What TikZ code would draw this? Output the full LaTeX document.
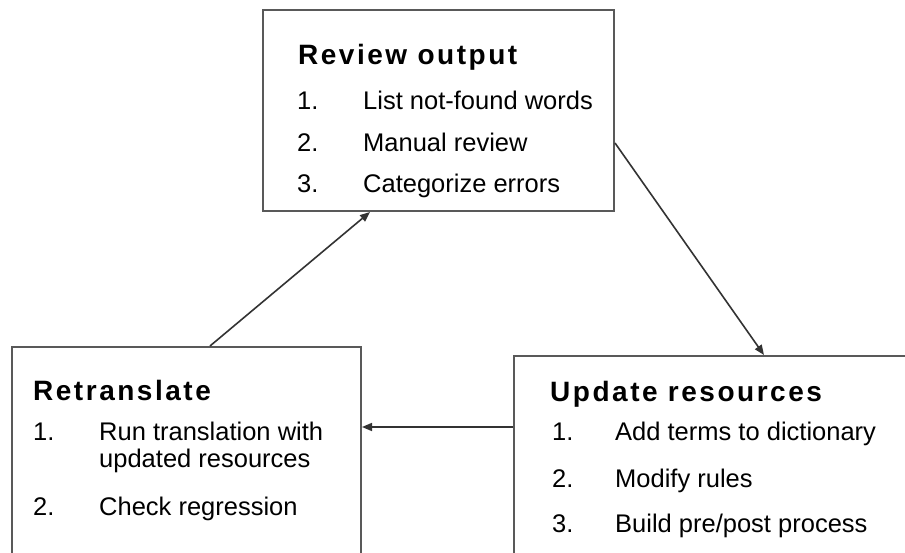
\documentclass[tikz,border=0pt]{standalone}
\usepackage{fontspec}
\setmainfont{Liberation Sans}
\newfontfamily\ttlfont[LetterSpace=9]{Liberation Sans Bold}
\usetikzlibrary{arrows.meta}
\begin{document}
\begin{tikzpicture}[x=1pt,y=-1pt,
  box/.style={draw=black!65,line width=2pt,fill=white,inner sep=0pt,anchor=north west},
  ttl/.style={inner sep=0pt,anchor=base west,font=\ttlfont\fontsize{28}{32}\selectfont},
  itm/.style={inner sep=0pt,anchor=base west,font=\fontsize{25.5}{30}\selectfont},
  conn/.style={draw=black!80,line width=1.6pt,-{Triangle[length=10pt,width=8pt]}}]
\path[use as bounding box,clip] (0,0) rectangle (905,553);
\fill[white] (0,0) rectangle (905,553);
% boxes
\node[box,minimum width=351pt,minimum height=201pt] (rev) at (262,9) {};
\node[box,minimum width=349pt,minimum height=260pt] (ret) at (11,346) {};
\node[box,minimum width=437pt,minimum height=245pt] (upd) at (513,355) {};
% Review output
\node[ttl] (revt) at (298,65) {Review output};
\node[itm] (revn1) at (297,110) {1.};
\node[itm] (revi1) at (363,110) {List not-found words};
\node[itm] (revn2) at (297,152) {2.};
\node[itm] (revi2) at (363,152) {Manual review};
\node[itm] (revn3) at (297,193) {3.};
\node[itm] (revi3) at (363,193) {Categorize errors};
% Retranslate
\node[ttl] (rett) at (33,400) {Retranslate};
\node[itm] (retn1) at (33,440) {1.};
\node[itm] (reti1) at (99,440) {Run translation with};
\node[itm] (reti1b) at (99,467) {updated resources};
\node[itm] (retn2) at (33,515) {2.};
\node[itm] (reti2) at (99,515) {Check regression};
% Update resources
\node[ttl] (updt) at (550,401) {Update resources};
\node[itm] (updn1) at (552,440) {1.};
\node[itm] (updi1) at (615,440) {Add terms to dictionary};
\node[itm] (updn2) at (552,487) {2.};
\node[itm] (updi2) at (615,487) {Modify rules};
\node[itm] (updn3) at (552,532) {3.};
\node[itm] (updi3) at (615,532) {Build pre/post process};
% connectors
\draw[conn] ([yshift=-134pt]rev.north east) -- ([xshift=251pt]upd.north west);
\draw[conn] ([yshift=-72pt]upd.north west) -- ([yshift=-81pt]ret.north east);
\draw[conn] ([xshift=199pt]ret.north west) -- ([xshift=108pt]rev.south west);
\end{tikzpicture}
\end{document}
